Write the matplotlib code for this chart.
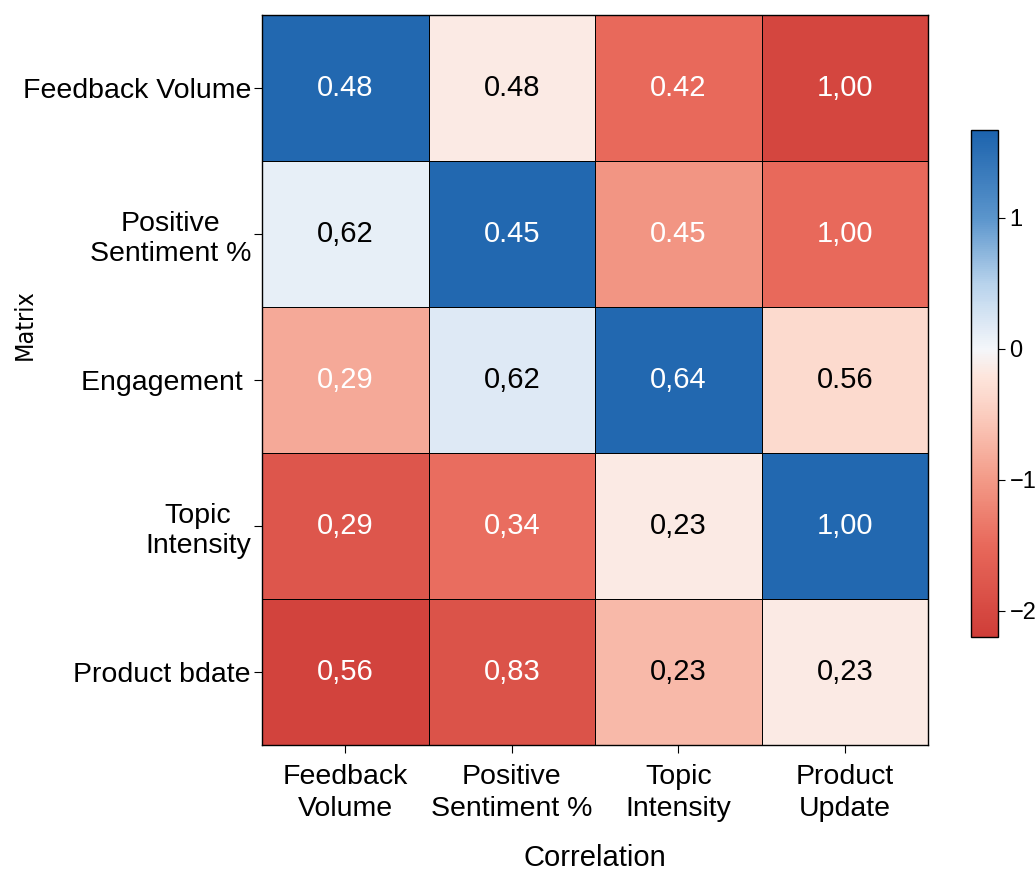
import numpy as np
import matplotlib
matplotlib.use("Agg")
import matplotlib.pyplot as plt
from matplotlib.colors import LinearSegmentedColormap, Normalize

plt.rcParams['font.family'] = ['Liberation Sans', 'DejaVu Sans']

row_labels = ["Feedback Volume", "Positive\nSentiment %", "Engagement ", "Topic\nIntensity", "Product bdate"]
col_labels = ["Feedback\nVolume", "Positive\nSentiment %", "Topic\nIntensity", "Product\nUpdate"]

# colour values per cell
row_feedback = [1.60, -0.15, -1.50, -2.05]
row_positive = [0.10, 1.60, -1.05, -1.50]
row_engagement = [-0.85, 0.18, 1.60, -0.35]
row_topic = [-1.80, -1.45, -0.15, 1.60]
row_product = [-2.10, -1.85, -0.70, -0.15]

# printed annotations
text_feedback = ["0.48", "0.48", "0.42", "1,00"]
text_positive = ["0,62", "0.45", "0.45", "1,00"]
text_engagement = ["0,29", "0,62", "0,64", "0.56"]
text_topic = ["0,29", "0,34", "0,23", "1,00"]
text_product = ["0,56", "0,83", "0,23", "0,23"]

values = np.array([row_feedback, row_positive, row_engagement, row_topic, row_product])
texts = [text_feedback, text_positive, text_engagement, text_topic, text_product]

vmin, vmax = -2.2, 1.67
anchors = [(-2.2, "#cf3d38"), (-1.5, "#e8695b"), (-1.0, "#f39a87"), (-0.5, "#fbcdbf"),
           (-0.2, "#fde6dd"), (0.0, "#f4f6fa"), (0.5, "#b8d3ec"), (1.0, "#5b95cc"),
           (1.67, "#1c63ad")]
cmap = LinearSegmentedColormap.from_list(
    "rdbu_soft", [((v - vmin) / (vmax - vmin), c) for v, c in anchors])
norm = Normalize(vmin=vmin, vmax=vmax)

fig = plt.figure(figsize=(10.36, 8.74), dpi=100)
ax = fig.add_axes([0.253, 0.148, 0.643, 0.835])
mesh = ax.pcolormesh(values, cmap=cmap, norm=norm, edgecolors="black", linewidth=0.5)
ax.set_xlim(0, 4)
ax.set_ylim(5, 0)

for i in range(values.shape[0]):
    for j in range(values.shape[1]):
        color = "white" if abs(values[i, j]) > 0.8 else "black"
        ax.text(j + 0.5, i + 0.5, texts[i][j], ha="center", va="center",
                fontsize=21, color=color)

ax.set_xticks(np.arange(4) + 0.5)
ax.set_xticklabels(col_labels, fontsize=20.5, linespacing=1.3)
ax.set_yticks(np.arange(5) + 0.5)
ax.set_yticklabels(row_labels, fontsize=20.5, linespacing=1.2, multialignment="center")
ax.tick_params(axis="both", length=6, width=0.8, pad=2)
ax.tick_params(axis="x", pad=8)
ax.set_xlabel("Correlation", fontsize=21, labelpad=16)
for spine in ax.spines.values():
    spine.set_linewidth(1.0)

fig.text(25 / 1036, 1 - 325 / 874, "Matrix", rotation=90, ha="center", va="center",
         fontsize=18, family="DejaVu Sans", fontstretch="condensed")

cax = fig.add_axes([0.937, 0.271, 0.026, 0.58])
cb = fig.colorbar(mesh, cax=cax, ticks=[-2, -1, 0, 1])
cb.ax.tick_params(labelsize=17, length=5)
cb.outline.set_linewidth(1.0)

fig.savefig("out.png", dpi=100)
